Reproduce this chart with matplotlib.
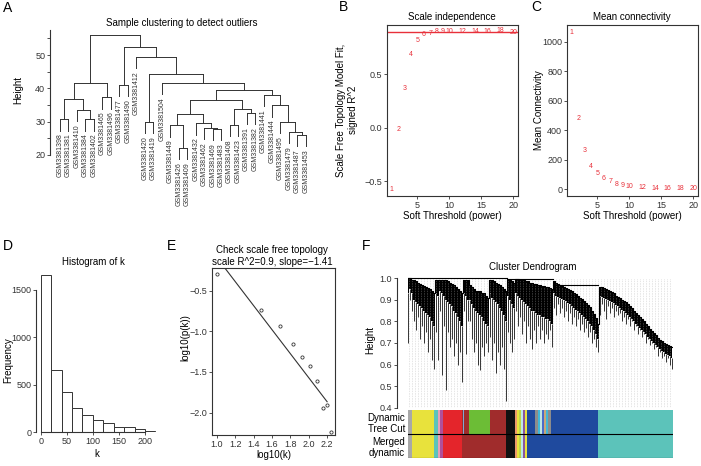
import numpy as np
import matplotlib.pyplot as plt

plt.rcParams['font.family'] = ['Liberation Sans', 'DejaVu Sans']
plt.rcParams['axes.linewidth'] = 0.8

W, H = 701, 466
fig = plt.figure(figsize=(W / 100, H / 100), dpi=100)
INK = '#333333'
RED = '#E8303A'


def box(l, t, r, b):
    return fig.add_axes([l / W, 1 - b / H, (r - l) / W, (b - t) / H])


def ftext(x, y, s, **kw):
    kw.setdefault('ha', 'center')
    kw.setdefault('va', 'center')
    kw.setdefault('fontsize', 7)
    fig.text(x / W, 1 - y / H, s, **kw)


def ticks(ax):
    ax.tick_params(direction='out', length=2.2, width=0.6, labelsize=6.5, pad=1.2, colors=INK)
    for s in ax.spines.values():
        s.set_color(INK)


# ---------------- data ----------------
samples = ["GSM3381398", "GSM3381381", "GSM3381410", "GSM3381384", "GSM3381402",
           "GSM3381465", "GSM3381496", "GSM3381477", "GSM3381490", "GSM3381412",
           "GSM3381420", "GSM3381419", "GSM3381504", "GSM3381449", "GSM3381426",
           "GSM3381409", "GSM3381432", "GSM3381462", "GSM3381469", "GSM3381483",
           "GSM3381408", "GSM3381423", "GSM3381391", "GSM3381382", "GSM3381441",
           "GSM3381444", "GSM3381495", "GSM3381479", "GSM3381487", "GSM3381453"]
# hclust style merges: negative = leaf (order position), positive = earlier merge
merges = [(-1, -2), (-4, -5), (-3, 2), (1, 3), (-6, -7), (4, 5), (-8, -9), (-11, -12),
          (-15, -16), (-14, 9), (-19, -20), (-18, 11), (-17, 12), (10, 13), (-21, -22),
          (-23, -24), (15, 16), (14, 17), (-29, -30), (-28, 19), (-27, 20), (-26, 21),
          (-25, 22), (18, 23), (-13, 24), (8, 25), (-10, 26), (7, 27), (6, 28)]
merge_height = [30.7, 30.7, 33.5, 36.7, 37.3, 41.7, 41.0, 30.0, 22.1, 28.9, 27.8, 28.2,
                29.5, 32.3, 29.0, 32.7, 33.7, 36.5, 26.0, 27.0, 30.0, 34.9, 38.0, 39.5,
                41.6, 44.3, 49.5, 52.3, 56.0]

powers = [1, 2, 3, 4, 5, 6, 7, 8, 9, 10, 12, 14, 16, 18, 20]
sft_r2 = [-0.58, -0.02, 0.37, 0.69, 0.82, 0.87, 0.88, 0.905, 0.905, 0.90, 0.90, 0.90,
          0.90, 0.91, 0.89]
mean_k = [1063, 480, 258, 156, 102, 70, 50, 32, 22, 16, 9, 6, 4, 2, 1.5]

hist_breaks = [0, 20, 40, 60, 80, 100, 120, 140, 160, 180, 200, 220]
hist_counts = [1660, 652, 425, 252, 175, 132, 97, 52, 50, 27, 8]

log_k = [1.0, 1.48, 1.69, 1.83, 1.93, 2.01, 2.09, 2.15, 2.20, 2.24]
log_pk = [-0.30, -0.74, -0.93, -1.16, -1.32, -1.43, -1.61, -1.94, -1.91, -2.24]
fit_slope, fit_intercept = -1.48, 1.39

# gene dendrogram profile along the gene order: branch top, dense-mass bottom, deepest tip
gene_pos = [0, 2, 4, 6, 8, 10, 12, 14, 16, 18, 20, 22, 24, 26, 28, 30, 32, 34, 36, 38, 40,
            42, 44, 46, 48, 50, 52, 54, 56, 58, 60, 62, 64, 66, 68, 70, 72, 74, 76, 78, 80,
            82, 84, 86, 88, 90, 92, 94, 96, 98, 100, 102, 104, 106, 108, 110, 112, 114, 116,
            118, 120, 122, 124, 126, 128, 130, 132, 134, 136, 138, 140, 142, 144, 146, 148,
            150, 152, 154, 156, 158, 160, 162, 164, 166, 168, 170, 172, 174, 176, 178, 180,
            182, 184, 186, 188, 190, 192, 194, 196, 198, 200, 202, 204, 206, 208, 210, 212,
            214, 216, 218, 220, 222, 224, 226, 228, 230, 232, 234, 236, 238, 240, 242, 244,
            246, 248, 250, 252, 254, 256, 258, 260, 262, 264]
gene_top = [1.0, 1.0, 0.99, 0.99, 0.985, 0.98, 0.975, 0.97, 0.965, 0.96, 0.955, 0.95, 0.94,
            0.93, 0.99, 0.99, 0.99, 0.99, 0.99, 0.99, 0.985, 0.98, 0.975, 0.97, 0.96, 0.95,
            0.94, 0.93, 0.99, 0.99, 0.99, 0.97, 0.96, 0.95, 0.94, 0.94, 0.94, 0.93, 0.93,
            0.92, 0.91, 0.99, 0.99, 0.985, 0.98, 0.975, 0.97, 0.96, 0.95, 0.94, 0.99, 0.99,
            0.985, 0.98, 0.995, 0.995, 0.99, 0.99, 0.99, 0.985, 0.985, 0.98, 0.98, 0.975,
            0.975, 0.97, 0.97, 0.965, 0.965, 0.96, 0.96, 0.955, 0.95, 0.985, 0.98, 0.975,
            0.97, 0.965, 0.96, 0.955, 0.95, 0.945, 0.94, 0.93, 0.925, 0.92, 0.91, 0.905,
            0.895, 0.885, 0.875, 0.865, 0.85, 0.835, 0.815, 0.79, 0.96, 0.958, 0.955, 0.95,
            0.945, 0.94, 0.935, 0.93, 0.92, 0.915, 0.91, 0.90, 0.895, 0.89, 0.88, 0.87,
            0.86, 0.85, 0.84, 0.83, 0.82, 0.81, 0.80, 0.79, 0.78, 0.765, 0.755, 0.745,
            0.735, 0.725, 0.715, 0.71, 0.70, 0.695, 0.69, 0.685, 0.68]
gene_mass = [0.93, 0.95, 0.93, 0.90, 0.89, 0.88, 0.87, 0.86, 0.85, 0.84, 0.83, 0.82, 0.80,
             0.78, 0.93, 0.92, 0.94, 0.93, 0.92, 0.90, 0.89, 0.88, 0.87, 0.85, 0.84, 0.82,
             0.80, 0.78, 0.93, 0.92, 0.90, 0.90, 0.88, 0.86, 0.85, 0.84, 0.83, 0.82, 0.80,
             0.79, 0.78, 0.93, 0.91, 0.90, 0.89, 0.88, 0.86, 0.85, 0.83, 0.80, 0.92, 0.90,
             0.88, 0.86, 0.93, 0.92, 0.91, 0.90, 0.89, 0.88, 0.87, 0.86, 0.85, 0.85, 0.84,
             0.83, 0.83, 0.82, 0.82, 0.81, 0.81, 0.80, 0.79, 0.93, 0.92, 0.915, 0.91, 0.905,
             0.90, 0.895, 0.885, 0.88, 0.87, 0.86, 0.855, 0.85, 0.84, 0.83, 0.82, 0.81,
             0.80, 0.79, 0.78, 0.76, 0.74, 0.72, 0.92, 0.915, 0.91, 0.905, 0.90, 0.895,
             0.89, 0.885, 0.875, 0.87, 0.86, 0.855, 0.85, 0.84, 0.83, 0.82, 0.81, 0.80,
             0.79, 0.78, 0.77, 0.76, 0.75, 0.74, 0.73, 0.72, 0.71, 0.70, 0.69, 0.68, 0.67,
             0.665, 0.66, 0.65, 0.645, 0.64, 0.63]
gene_tip = [0.70, 0.90, 0.85, 0.80, 0.76, 0.82, 0.72, 0.78, 0.70, 0.75, 0.66, 0.72, 0.62,
            0.58, 0.75, 0.62, 0.85, 0.55, 0.78, 0.48, 0.75, 0.68, 0.72, 0.64, 0.70, 0.60,
            0.66, 0.52, 0.85, 0.65, 0.80, 0.80, 0.72, 0.66, 0.70, 0.60, 0.575, 0.68, 0.64,
            0.70, 0.66, 0.73, 0.62, 0.70, 0.56, 0.66, 0.60, 0.68, 0.58, 0.43, 0.75, 0.70,
            0.66, 0.72, 0.85, 0.78, 0.82, 0.74, 0.80, 0.70, 0.78, 0.72, 0.67, 0.76, 0.70,
            0.78, 0.72, 0.76, 0.70, 0.74, 0.72, 0.76, 0.68, 0.86, 0.83, 0.88, 0.84, 0.86,
            0.82, 0.85, 0.80, 0.84, 0.79, 0.82, 0.78, 0.81, 0.76, 0.79, 0.75, 0.77, 0.73,
            0.75, 0.70, 0.72, 0.68, 0.66, 0.83, 0.88, 0.85, 0.81, 0.87, 0.84, 0.86, 0.82,
            0.85, 0.83, 0.84, 0.80, 0.82, 0.79, 0.81, 0.78, 0.80, 0.76, 0.78, 0.74, 0.76,
            0.73, 0.74, 0.70, 0.72, 0.69, 0.70, 0.67, 0.68, 0.64, 0.66, 0.63, 0.64, 0.61,
            0.63, 0.60, 0.58]
top_links = [(0, 99, 1.0), (99, 145, 0.995), (145, 190, 0.968)]

module_colors = {'grey': '#A8A8A8', 'yellow': '#E8E23C', 'turquoise': '#5CC3BA',
                 'pink': '#E6A0B8', 'magenta': '#B0509A', 'red': '#E4252B',
                 'brown': '#A02C2C', 'lightblue': '#7FA7D6', 'green': '#6CBD36',
                 'black': '#111111', 'salmon': '#EE9A6A', 'greenyellow': '#B8D84A',
                 'lightcyan': '#BFE6E6', 'purple': '#8A55A0', 'blue': '#1F4A9E',
                 'tan': '#C8A878', 'cyan': '#40B8D8', 'grey60': '#8C8C8C',
                 'royalblue': '#4A6CC8'}
dynamic_start = [0, 4, 26, 30, 32.5, 35.5, 54.5, 55.5, 56.5, 61.5, 82, 98.5, 107.5, 109.5,
                 111.5, 113.5, 115, 117, 119.5, 127, 130, 132, 134, 136, 138, 140, 143.5,
                 190.5]
dynamic_color = ['grey', 'yellow', 'turquoise', 'pink', 'magenta', 'red', 'brown',
                 'lightblue', 'brown', 'green', 'brown', 'black', 'salmon', 'yellow',
                 'greenyellow', 'lightcyan', 'purple', 'yellow', 'blue', 'grey60', 'cyan',
                 'lightcyan', 'royalblue', 'tan', 'cyan', 'grey60', 'blue', 'turquoise']
merged_start = [0, 4, 26, 30, 32.5, 35.5, 54.5, 98.5, 107.5, 109.5, 111.5, 113.5, 115, 117,
                119.5, 190.5]
merged_color = ['grey', 'yellow', 'turquoise', 'pink', 'magenta', 'red', 'brown', 'black',
                'salmon', 'yellow', 'greenyellow', 'lightcyan', 'purple', 'yellow', 'blue',
                'turquoise']
gene_total = 265

# ---------------- A: sample clustering ----------------
ax = box(50, 28.5, 312, 155)
ax.set_xlim(-0.18, 30.72)
ax.set_ylim(20, 58)
hang = 0.1 * (max(merge_height) - min(merge_height))
node_x = {}
for k, (a, b) in enumerate(merges, start=1):
    h = merge_height[k - 1]
    xs = []
    for c in (a, b):
        if c < 0:
            cx, cy = -c, h - hang
            ax.annotate(samples[-c - 1], (cx, cy), xytext=(0, -2), textcoords='offset points',
                        rotation=90, ha='center', va='top', fontsize=5, color=INK,
                        annotation_clip=False)
        else:
            cx, cy = node_x[c], merge_height[c - 1]
        ax.plot([cx, cx], [cy, h], color=INK, lw=0.7, clip_on=False)
        xs.append(cx)
    ax.plot(xs, [h, h], color=INK, lw=0.7, clip_on=False)
    node_x[k] = sum(xs) / 2
for s in ['top', 'right', 'bottom']:
    ax.spines[s].set_visible(False)
ax.spines['left'].set_bounds(20, 57.5)
ax.set_xticks([])
ax.set_yticks([20, 25, 30, 35, 40, 45, 50, 55])
ax.set_yticklabels(['20', '', '30', '', '40', '', '50', ''])
ticks(ax)
ftext(182, 23, 'Sample clustering to detect outliers')
ftext(18, 90, 'Height', rotation=90)

# ---------------- B: scale independence ----------------
ax = box(387, 25, 518, 196)
ax.set_xlim(0.24, 20.76)
ax.set_ylim(-0.64, 0.9625)
ax.axhline(0.9, color=RED, lw=1.0)
for p, v in zip(powers, sft_r2):
    ax.text(p, v, str(p), color=RED, fontsize=5, ha='center', va='center')
ax.set_xticks([5, 10, 15, 20])
ax.set_yticks([-0.5, 0.0, 0.5])
ax.set_yticklabels(['\u22120.5', '0.0', '0.5'])
ticks(ax)
ftext(452, 17, 'Scale independence')
ftext(452, 216, 'Soft Threshold (power)')
ftext(347, 110, 'Scale Free Topology Model Fit,\nsigned R^2', rotation=90, linespacing=1.15)

# ---------------- C: mean connectivity ----------------
ax = box(567, 25, 698, 196)
ax.set_xlim(0.24, 20.76)
ax.set_ylim(-47.5, 1113)
for p, v in zip(powers, mean_k):
    ax.text(p, v, str(p), color=RED, fontsize=5, ha='center', va='center')
ax.set_xticks([5, 10, 15, 20])
ax.set_yticks([0, 200, 400, 600, 800, 1000])
ticks(ax)
ftext(632, 17, 'Mean connectivity')
ftext(632, 216, 'Soft Threshold (power)')
ftext(539, 110, 'Mean Connectivity', rotation=90)

# ---------------- D: histogram of k ----------------
ax = box(36.1, 269.6, 160, 432)
ax.bar(hist_breaks[:-1], hist_counts, width=np.diff(hist_breaks), align='edge',
       facecolor='white', edgecolor=INK, lw=0.7)
ax.set_xlim(-8.8, 228.8)
ax.set_ylim(0, 1715)
for s in ['top', 'right']:
    ax.spines[s].set_visible(False)
ax.spines['left'].set_bounds(0, 1500)
ax.spines['bottom'].set_bounds(0, 200)
ax.set_xticks([0, 50, 100, 150, 200])
ax.set_yticks([0, 500, 1000, 1500])
ticks(ax)
ftext(93, 262, 'Histogram of k')
ftext(97, 454, 'k')
ftext(8, 360, 'Frequency', rotation=90)

# ---------------- E: scale free topology ----------------
ax = box(212, 268, 335.4, 435)
ax.set_xlim(0.949, 2.29)
ax.set_ylim(-2.275, -0.221)
ax.plot(log_k, log_pk, 'o', mfc='none', mec=INK, ms=2.3, mew=0.6)
fit_x = np.array([log_k[0], log_k[-2]])
ax.plot(fit_x, fit_intercept + fit_slope * fit_x, color=INK, lw=0.8)
ax.set_xticks([1.0, 1.2, 1.4, 1.6, 1.8, 2.0, 2.2])
ax.set_yticks([-2.0, -1.5, -1.0, -0.5])
ax.set_yticklabels(['\u22122.0', '\u22121.5', '\u22121.0', '\u22120.5'])
ticks(ax)
ftext(272, 250, 'Check scale free topology')
ftext(272, 262, 'scale R^2=0.9, slope=\u22121.41')
ftext(274, 455, 'log10(k)')
ftext(185, 338, 'log10(p(k))', rotation=90)

# ---------------- F: cluster dendrogram + module colours ----------------
ax = box(407.7, 272, 673, 407.7)
ax.set_xlim(0, gene_total)
ax.set_ylim(0.4, 1.029)
for g in np.arange(1.5, gene_total, 3.0):
    ax.plot([g, g], [0.4, 1.0], color='#B0B0B0', lw=0.4, ls=(0, (1, 2)))
ax.fill_between(gene_pos, gene_mass, gene_top, step='mid', color='black', lw=0)
ax.vlines(gene_pos, gene_tip, gene_mass, color='black', lw=0.55)
ax.step(gene_pos, gene_top, where='mid', color='black', lw=0.8)
for a, b, h in top_links:
    ax.plot([a, b], [h, h], color='black', lw=0.8)
for s in ['top', 'right', 'bottom']:
    ax.spines[s].set_visible(False)
ax.spines['left'].set_position(('outward', 8))
ax.spines['left'].set_bounds(0.4, 1.0)
ax.set_xticks([])
ax.set_yticks([0.4, 0.5, 0.6, 0.7, 0.8, 0.9, 1.0])
ticks(ax)
ftext(370, 340, 'Height', rotation=90)
ftext(533, 267, 'Cluster Dendrogram')

cb = box(407.7, 410, 673, 458.3)
cb.set_xlim(0, gene_total)
cb.set_ylim(0, 2)
for row, starts, cols in [(1, dynamic_start, dynamic_color), (0, merged_start, merged_color)]:
    ends = starts[1:] + [gene_total]
    cb.broken_barh([(s, e - s) for s, e in zip(starts, ends)], (row, 1),
                   facecolors=[module_colors[c] for c in cols])
cb.axhline(1, color='black', lw=0.8)
cb.axhline(0, color='black', lw=0.8)
cb.axis('off')
ftext(405, 418, 'Dynamic', ha='right')
ftext(405, 429, 'Tree Cut', ha='right')
ftext(405, 442, 'Merged', ha='right')
ftext(405, 453, 'dynamic', ha='right')

for lab, x, y in [('A', 8, 8), ('B', 344, 7), ('C', 536, 7), ('D', 8, 246), ('E', 172, 246),
                  ('F', 366, 246)]:
    ftext(x, y, lab, fontsize=10)

fig.savefig('out.png', dpi=100)
